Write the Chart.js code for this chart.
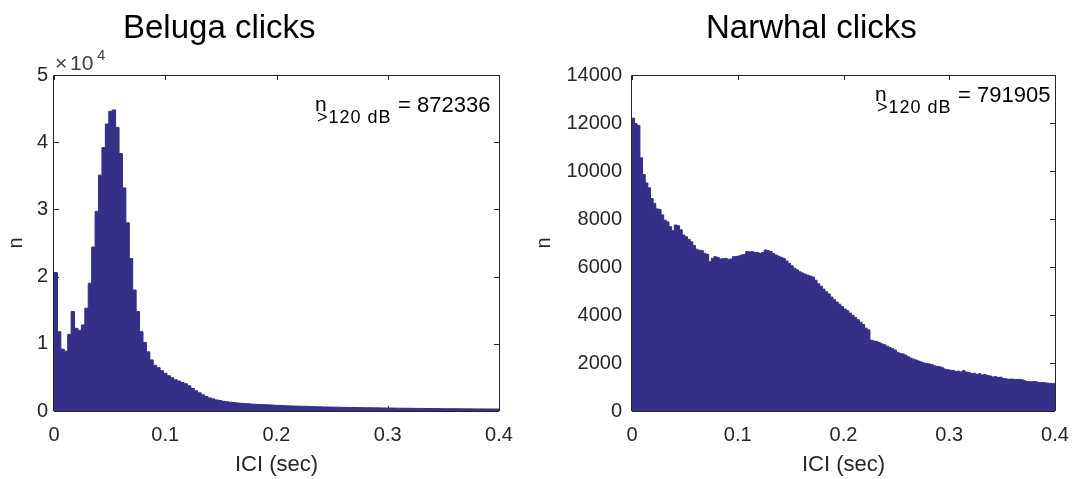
<!DOCTYPE html>
<html lang="en">
<head>
<meta charset="UTF-8">
<title>Beluga and narwhal clicks - ICI histograms</title>
<script src="https://cdn.jsdelivr.net/npm/chart.js"></script>
<style>
    body { margin: 0; background: #fff; }
    #wrap { position: relative; width: 1075px; height: 479px; }
    canvas { position: absolute; top: 0; }
    #belugaChart { left: 0; }
    #narwhalChart { left: 520px; }
</style>
</head>
<body>
<div id="wrap">
    <canvas id="belugaChart" width="520" height="479"></canvas>
    <canvas id="narwhalChart" width="555" height="479"></canvas>
</div>

<script>
// x ticks shared by both panels (ICI in seconds)
const iciTicks = [0, 0.1, 0.2, 0.3, 0.4];

// Beluga histogram: 130 bins over 0 - 0.4 s
const belugaBinWidth = 0.4 / 130;
const belugaCounts = [
    20600, 11800, 9200, 8900, 11400, 14800, 12300, 12000, 12800, 15300,
    19000, 24400, 29700, 35100, 39200, 42700, 44600, 44800, 42200, 38300,
    33200, 28000, 22700, 18000, 14800, 11800, 10200, 8800, 7600, 6800,
    6450, 6000, 5600, 5250, 4950, 4650, 4450, 4250, 4050, 3750,
    3350, 3000, 2700, 2400, 2150, 1950, 1800, 1650, 1550, 1450,
    1380, 1320, 1260, 1200, 1160, 1120, 1080, 1040, 1010, 980,
    960, 940, 920, 890, 860, 840, 820, 790, 770, 750,
    730, 720, 700, 700, 670, 660, 640, 630, 610, 600,
    590, 580, 575, 560, 550, 540, 530, 525, 510, 500,
    490, 485, 480, 470, 470, 460, 450, 445, 440, 430,
    420, 415, 410, 400, 400, 390, 385, 380, 375, 370,
    365, 360, 360, 350, 345, 340, 340, 335, 330, 325,
    320, 320, 315, 310, 310, 305, 300, 300, 295, 290
];
const belugaYTicks = [0, 10000, 20000, 30000, 40000, 50000];
const belugaTotal = 872336;

// Narwhal histogram: 160 bins of 2.5 ms
const narwhalBinWidth = 0.0025;
const narwhalCounts = [
    12200, 11950, 11900, 10550, 9850, 9500, 9300, 8850, 8650, 8420,
    8400, 8170, 7950, 7880, 7680, 7510, 7750, 7720, 7550, 7330,
    7260, 7150, 7050, 6900, 6740, 6700, 6680, 6570, 6530, 6220,
    6360, 6430, 6400, 6330, 6350, 6360, 6320, 6330, 6430, 6440,
    6460, 6500, 6520, 6640, 6630, 6640, 6600, 6600, 6570, 6600,
    6710, 6680, 6640, 6560, 6500, 6450, 6400, 6350, 6250, 6150,
    6050, 5950, 5880, 5800, 5750, 5700, 5660, 5620, 5580, 5450,
    5300, 5200, 5080, 4970, 4880, 4750, 4640, 4540, 4450, 4350,
    4250, 4180, 4080, 3990, 3900, 3800, 3700, 3600, 3450, 3380,
    2950, 2920, 2900, 2850, 2800, 2760, 2700, 2650, 2600, 2540,
    2450, 2400, 2380, 2330, 2260, 2200, 2160, 2120, 2080, 2040,
    2000, 1980, 1960, 1930, 1880, 1860, 1840, 1800, 1740, 1720,
    1700, 1690, 1650, 1660, 1630, 1680, 1620, 1600, 1560, 1570,
    1530, 1550, 1500, 1520, 1480, 1460, 1420, 1430, 1400, 1410,
    1350, 1340, 1320, 1330, 1320, 1310, 1320, 1300, 1260, 1230,
    1220, 1220, 1230, 1200, 1180, 1190, 1170, 1160, 1150, 1140
];
const narwhalYTicks = [0, 2000, 4000, 6000, 8000, 10000, 12000, 14000];
const narwhalTotal = 791905;

const barColor = '#352f87';
const axisColor = '#262626';
const fontFamily = "'Liberation Sans', Arial, sans-serif";

// histogram outline: each bin starts at its left edge, last edge closes the step
function stepPoints(counts, binWidth) {
    const pts = counts.map((c, i) => ({ x: i * binWidth, y: c }));
    pts.push({ x: counts.length * binWidth, y: counts[counts.length - 1] });
    return pts;
}

// box, inward ticks and the text annotations MATLAB puts on the figure
const figureDecor = {
    id: 'figureDecor',
    beforeDatasetsDraw(chart) {
        const { ctx, chartArea: a, scales: { x, y } } = chart;
        ctx.save();
        ctx.strokeStyle = axisColor;
        ctx.lineWidth = 1;
        ctx.beginPath();
        x.ticks.forEach(t => {
            const px = Math.round(x.getPixelForValue(t.value)) + 0.5;
            ctx.moveTo(px, a.top); ctx.lineTo(px, a.top + 5);
            ctx.moveTo(px, a.bottom); ctx.lineTo(px, a.bottom - 5);
        });
        y.ticks.forEach(t => {
            const py = Math.round(y.getPixelForValue(t.value)) + 0.5;
            ctx.moveTo(a.left, py); ctx.lineTo(a.left + 5, py);
            ctx.moveTo(a.right, py); ctx.lineTo(a.right - 5, py);
        });
        ctx.moveTo(a.left, Math.round(a.bottom) + 0.5);
        ctx.lineTo(a.right, Math.round(a.bottom) + 0.5);
        ctx.stroke();
        ctx.restore();
    },
    afterDatasetsDraw(chart) {
        const { ctx, chartArea: a } = chart;
        const l = Math.round(a.left) - 0.5, r = Math.round(a.right) + 0.5, t = Math.round(a.top) + 0.5;
        ctx.save();
        ctx.strokeStyle = axisColor;
        ctx.lineWidth = 1;
        ctx.beginPath();
        ctx.moveTo(l, a.bottom); ctx.lineTo(l, t); ctx.lineTo(r, t); ctx.lineTo(r, a.bottom);
        ctx.stroke();
        ctx.restore();
    },
    afterDraw(chart, args, opts) {
        const { ctx, chartArea: a } = chart;
        const nx = a.right - opts.noteRight;
        ctx.save();
        ctx.fillStyle = '#000';
        ctx.textBaseline = 'alphabetic';
        ctx.textAlign = 'left';
        ctx.font = `33px ${fontFamily}`;
        ctx.fillText(opts.title, opts.titleX, 38);

        // n_{>120 dB} = total
        ctx.font = `21px ${fontFamily}`;
        ctx.fillText('n', nx, opts.noteBase - 1);
        ctx.font = `18px ${fontFamily}`;
        ctx.letterSpacing = '1px';
        ctx.fillText('>120 dB', nx + 2, opts.noteBase + 11);
        ctx.letterSpacing = '0px';
        ctx.font = `22px ${fontFamily}`;
        ctx.fillText('= ' + opts.total, nx + 83, opts.noteBase);

        if (opts.exponent) {
            ctx.fillStyle = '#404040';
            ctx.font = `21px ${fontFamily}`;
            ctx.fillText('\u00d7', a.left + 1, 70);
            ctx.fillText('10', a.left + 16, 70);
            ctx.font = `15px ${fontFamily}`;
            ctx.fillText('4', a.left + 43, 60);
        }
        ctx.restore();
    }
};

function makeOptions(yTicks, yMax, yLabel, yWidth, yLabelPad, yTitlePad, rightPad, decor) {
    return {
        responsive: false,
        animation: false,
        layout: { padding: { top: 75, right: rightPad, left: 0, bottom: 0 } },
        plugins: {
            legend: { display: false },
            tooltip: { enabled: false },
            figureDecor: decor
        },
        scales: {
            x: {
                type: 'linear',
                min: 0,
                max: 0.4,
                afterBuildTicks: s => { s.ticks = iciTicks.map(v => ({ value: v })); },
                afterFit: s => { s.height = 68; s.paddingLeft = 0; s.paddingRight = 0; },
                grid: { display: false, drawTicks: false },
                border: { display: false },
                ticks: {
                    padding: 12,
                    maxRotation: 0,
                    color: axisColor,
                    font: { family: fontFamily, size: 20 },
                    callback: v => v === 0 ? '0' : v.toFixed(1)
                },
                title: {
                    display: true,
                    text: 'ICI (sec)',
                    color: axisColor,
                    font: { family: fontFamily, size: 22 },
                    padding: { top: 0, bottom: 1 }
                }
            },
            y: {
                min: 0,
                max: yMax,
                afterBuildTicks: s => { s.ticks = yTicks.map(v => ({ value: v })); },
                afterFit: s => { s.width = yWidth; s.paddingTop = 0; s.paddingBottom = 0; },
                grid: { display: false, drawTicks: false },
                border: { display: false },
                ticks: {
                    padding: yLabelPad,
                    color: axisColor,
                    font: { family: fontFamily, size: 20 },
                    callback: yLabel
                },
                title: {
                    display: true,
                    text: 'n',
                    color: axisColor,
                    font: { family: fontFamily, size: 20 },
                    padding: { top: yTitlePad, bottom: 0 }
                }
            }
        }
    };
}

function histDataset(points) {
    return {
        data: points,
        stepped: 'before',
        fill: 'origin',
        backgroundColor: barColor,
        borderColor: barColor,
        borderWidth: 1,
        pointRadius: 0,
        tension: 0
    };
}

new Chart(document.getElementById('belugaChart'), {
    type: 'line',
    data: { datasets: [histDataset(stepPoints(belugaCounts, belugaBinWidth))] },
    options: makeOptions(belugaYTicks, 50000, v => String(v / 10000), 54, 6, 4, 21, {
        title: 'Beluga clicks', titleX: 123, total: belugaTotal,
        noteRight: 184, noteBase: 112, exponent: true
    }),
    plugins: [figureDecor]
});

new Chart(document.getElementById('narwhalChart'), {
    type: 'line',
    data: { datasets: [histDataset(stepPoints(narwhalCounts, narwhalBinWidth))] },
    options: makeOptions(narwhalYTicks, 14000, v => String(v), 112, 10, 12, 20, {
        title: 'Narwhal clicks', titleX: 186, total: narwhalTotal,
        noteRight: 180, noteBase: 102, exponent: false
    }),
    plugins: [figureDecor]
});
</script>
</body>
</html>
